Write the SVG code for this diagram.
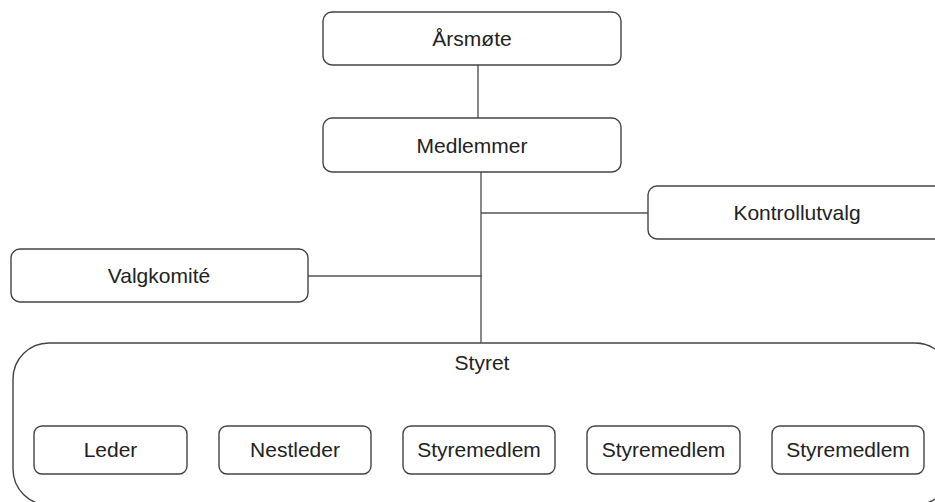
<svg xmlns="http://www.w3.org/2000/svg" width="935" height="502" viewBox="0 0 935 502">
<style>
.box{fill:#fff;stroke:#444;stroke-width:1.4}
.t{font-family:"Liberation Sans",Arial,sans-serif;font-size:21px;fill:#222;text-anchor:middle}
.c{stroke:#555;stroke-width:1.4;fill:none}
</style>
<rect width="935" height="502" fill="#fff"/>
<g id="styret">
<rect class="box" x="13" y="343" width="938" height="162" rx="36" ry="36"/>
<text class="t" x="482" y="370">Styret</text>
</g>
<g id="connectors">
<line class="c" x1="478" y1="65" x2="478" y2="118"/>
<line class="c" x1="481" y1="172" x2="481" y2="343"/>
<line class="c" x1="481" y1="213" x2="648" y2="213"/>
<line class="c" x1="308" y1="276" x2="482" y2="276"/>
</g>
<g id="arsmote">
<rect class="box" x="323" y="12" width="298" height="53" rx="9"/>
<text class="t" x="472" y="46">Årsmøte</text>
</g>
<g id="medlemmer">
<rect class="box" x="323" y="118" width="298" height="54" rx="9"/>
<text class="t" x="472" y="153">Medlemmer</text>
</g>
<g id="kontrollutvalg">
<rect class="box" x="648" y="186" width="298" height="53" rx="9"/>
<text class="t" x="797" y="220">Kontrollutvalg</text>
</g>
<g id="valgkomite">
<rect class="box" x="11" y="249" width="297" height="53" rx="9"/>
<text class="t" x="159" y="283">Valgkomité</text>
</g>
<g id="leder">
<rect class="box" x="34" y="426" width="153" height="48" rx="8"/>
<text class="t" x="110.5" y="457">Leder</text>
</g>
<g id="nestleder">
<rect class="box" x="219" y="426" width="152" height="48" rx="8"/>
<text class="t" x="295" y="457">Nestleder</text>
</g>
<g id="styremedlem1">
<rect class="box" x="403" y="426" width="152" height="48" rx="8"/>
<text class="t" x="479" y="457">Styremedlem</text>
</g>
<g id="styremedlem2">
<rect class="box" x="587" y="426" width="153" height="48" rx="8"/>
<text class="t" x="663.5" y="457">Styremedlem</text>
</g>
<g id="styremedlem3">
<rect class="box" x="772" y="426" width="152" height="48" rx="8"/>
<text class="t" x="848" y="457">Styremedlem</text>
</g>
</svg>
